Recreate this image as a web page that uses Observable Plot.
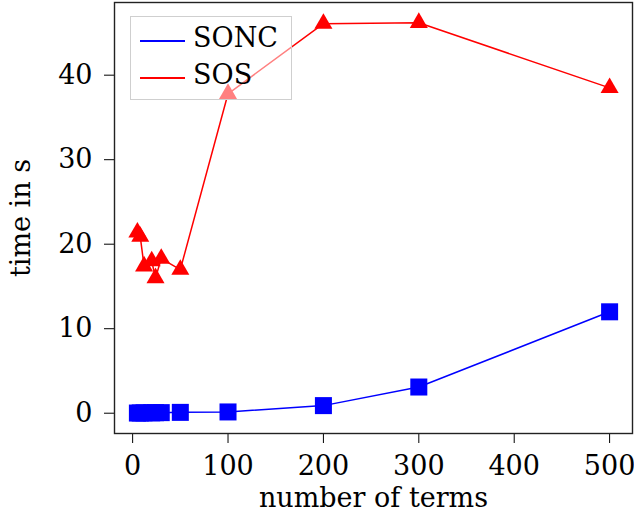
<!DOCTYPE html>
<html>
<head>
<meta charset="utf-8">
<script src="https://cdn.jsdelivr.net/npm/d3@7"></script>
<script src="https://cdn.jsdelivr.net/npm/@observablehq/plot@0.6"></script>
<style>
  html, body { margin: 0; padding: 0; background: #fff; }
  #wrap { position: relative; width: 634px; height: 513px; font-family: "DejaVu Serif", serif; }
  #legend { position: absolute; left: 130px; top: 16px; width: 160px; height: 82px;
            border: 1px solid #cfcfcf; background: rgba(255,255,255,0.5); }
  .item { position: absolute; left: 0; height: 30px; }
  .swatch { position: absolute; left: 9px; width: 45px; height: 2px; }
  .lab { position: absolute; left: 62px; font-size: 27px; line-height: 30px; color: #000; white-space: nowrap; }
</style>
</head>
<body>
<div id="wrap"></div>
<script>
// number of terms (x)
const terms = [5, 8, 12, 20, 24, 30, 50, 100, 200, 300, 500];
// time in s
const soncTime = [0.02, 0.03, 0.04, 0.05, 0.06, 0.07, 0.1, 0.15, 0.9, 3.1, 12.0];
const sosTime  = [21.4, 20.9, 17.4, 18.0, 16.0, 18.3, 17.0, 37.8, 46.1, 46.2, 38.5];
const seriesNames = ["SONC", "SOS"];
const seriesColors = ["#0000ff", "#ff0000"];
const xTicks = [0, 100, 200, 300, 400, 500];
const yTicks = [0, 10, 20, 30, 40];

const sonc = terms.map((t, i) => ({terms: t, time: soncTime[i]}));
const sos = terms.map((t, i) => ({terms: t, time: sosTime[i]}));

const FONT = "'DejaVu Serif', serif";

const chart = Plot.plot({
  width: 634,
  height: 513,
  marginLeft: 114,
  marginRight: 2,
  marginTop: 2,
  marginBottom: 80,
  style: {fontFamily: FONT, fontSize: "27px", color: "#000", background: "#fff"},
  x: {domain: [-19, 524], ticks: xTicks, tickSize: 10, tickPadding: 12, label: "number of terms",
      labelAnchor: "center", labelOffset: 73, labelArrow: "none", tickFormat: d => String(d)},
  y: {domain: [-2.4, 48.6], ticks: yTicks, tickSize: 10, tickPadding: 12, label: "time in s",
      labelAnchor: "center", labelOffset: 104, labelArrow: "none", tickFormat: d => String(d)},
  marks: [
    Plot.line(sonc, {x: "terms", y: "time", stroke: seriesColors[0], strokeWidth: 1.5}),
    Plot.dot(sonc, {x: "terms", y: "time", symbol: "square", fill: seriesColors[0], r: 9.6}),
    Plot.line(sos, {x: "terms", y: "time", stroke: seriesColors[1], strokeWidth: 1.5}),
    Plot.dot(sos, {x: "terms", y: "time", symbol: "triangle", fill: seriesColors[1], r: 6.7}),
    Plot.frame({stroke: "#222", strokeWidth: 1.4})
  ]
});
const wrap = document.getElementById("wrap");
wrap.appendChild(chart);

const legend = document.createElement("div");
legend.id = "legend";
seriesNames.forEach((name, i) => {
  const item = document.createElement("div");
  item.className = "item";
  item.style.top = (9 + i * 37) + "px";
  const sw = document.createElement("div");
  sw.className = "swatch";
  sw.style.background = seriesColors[i];
  sw.style.top = "14px";
  const lab = document.createElement("div");
  lab.className = "lab";
  lab.textContent = name;
  lab.style.top = "-3px";
  item.appendChild(sw);
  item.appendChild(lab);
  legend.appendChild(item);
});
wrap.appendChild(legend);
</script>
</body>
</html>
